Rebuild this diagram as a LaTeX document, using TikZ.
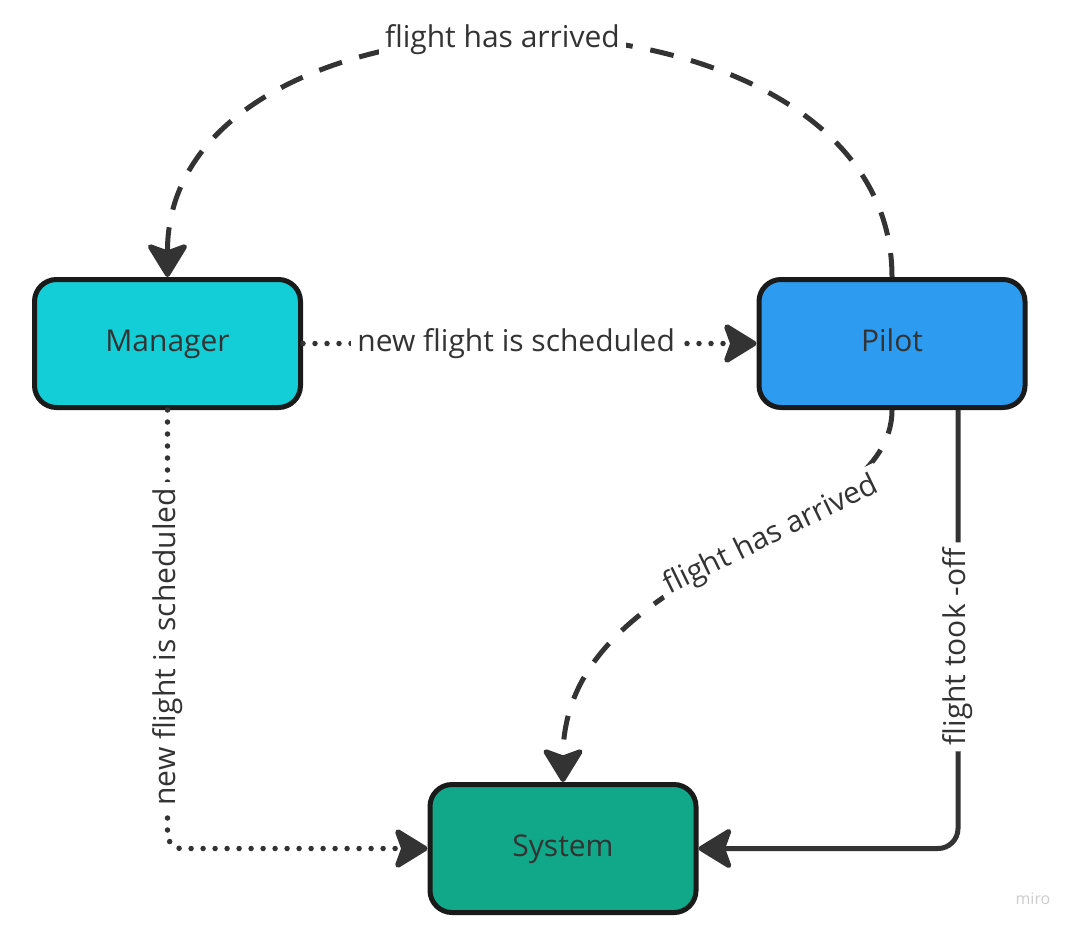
\documentclass[tikz,border=0pt]{standalone}
\usepackage{fontspec}
\setmainfont{Open Sans}
\usetikzlibrary{arrows.meta}
\definecolor{mgrcyan}{HTML}{13CED6}
\definecolor{pilotblue}{HTML}{2D9CF0}
\definecolor{sysgreen}{HTML}{10A889}
\definecolor{boxline}{HTML}{1A1A1A}
\definecolor{ink}{HTML}{333333}
\begin{document}
\begin{tikzpicture}[x=1pt, y=-1pt, >={Stealth[length=37pt,width=45pt,inset=8pt,round]}]
      \tikzset{
  statebox/.style={
    rectangle,
    rounded corners=22pt,
    draw=boxline,
    line width=5pt,
    minimum width=266pt,
    minimum height=128pt,
    text=ink,
    text height=22pt,
    text depth=7pt,
    font=\fontsize{30}{36}\selectfont
  },
  link/.style={
    draw=ink,
    line width=5pt,
    ->
  },
  dotlink/.style={
    link,
    line width=5.5pt,
    line cap=round,
    dash pattern=on 0pt off 12pt
  },
  dashlink/.style={
    link,
    dash pattern=on 24pt off 18pt
  },
  linklabel/.style={
    fill=white,
    text=ink,
    inner sep=6pt,
    font=\fontsize{30}{36}\selectfont
  }
}
\useasboundingbox (0,0) rectangle (1075,929);

\foreach \n/\c/\x/\y in {Manager/mgrcyan/167.5/343.5, Pilot/pilotblue/892/343.5, System/sysgreen/563/848.5}
  \node [statebox, fill=\c] (box-\n) at (\x,\y) {\n};

% scheduled flight
\draw [dotlink] (box-Manager) -- (box-Pilot)
  node [linklabel, pos=.47] {new flight is scheduled};
\draw [dotlink, rounded corners=14pt] (box-Manager.south) |- (box-System.west)
  node [linklabel, pos=.27, rotate=90] {new flight is scheduled};

% arrival
\draw [dashlink] (box-Pilot.north) .. controls (892,-40) and (167,-40) .. (box-Manager.north)
  node [linklabel, pos=.525] {flight has arrived};
\draw [dashlink] (box-Pilot.south) .. controls (892,540) and (563,560) .. (box-System.north)
  node [linklabel, pos=.41, rotate=26] {flight has arrived};

% take-off
\draw [link, rounded corners=20pt] ([xshift=66pt]box-Pilot.south) |- (box-System.east)
  node [linklabel, pos=.27, rotate=90] {flight took -off};

\node [text=gray!40, font=\fontsize{16}{18}\selectfont] (miro) at (1033,899) {miro};
    \end{tikzpicture}
\end{document}
